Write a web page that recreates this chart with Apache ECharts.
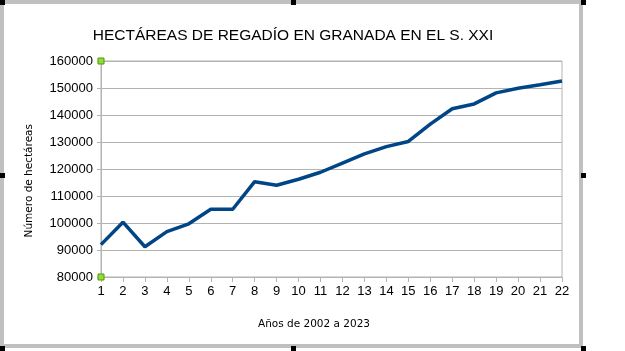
<!DOCTYPE html>
<html>
<head>
<meta charset="utf-8">
<script src="https://cdn.jsdelivr.net/npm/echarts@6/dist/echarts.min.js"></script>
<style>
  html, body { margin: 0; padding: 0; background: #fff; }
  #chart { width: 625px; height: 351px; }
</style>
</head>
<body>
<div id="chart"></div>
<script>
// años 2002..2023 numerados del 1 al 22
const years = ['1','2','3','4','5','6','7','8','9','10','11','12','13','14','15','16','17','18','19','20','21','22']
const hectareas = [92000, 100300, 91200, 96800, 99700, 105100, 105100, 115300, 114000, 116200, 118800,
  122200, 125600, 128300, 130200, 136600, 142300, 144100, 148200, 149900, 151200, 152600]
const yTicks = { min: 80000, max: 160000, step: 10000 }

const chart = echarts.init(document.getElementById('chart'))

// marcos y tiradores de seleccion (estilo LibreOffice)
const gray = '#c0c0c0'
const handles = [[0,0],[291,0],[581,0],[0,173],[581,173],[0,346],[291,346],[581,346]]

const option = {
  backgroundColor: '#fff',
  animation: false,
  title: [
    {
      text: 'HECTÁREAS DE REGADÍO EN GRANADA EN EL S. XXI',
      left: 288, top: 23, textAlign: 'center',
      textStyle: { fontFamily: 'Liberation Sans', fontSize: 15.5, fontWeight: 'normal', color: '#000' }
    },
    {
      text: 'Años de 2002 a 2023',
      left: 309, top: 314, textAlign: 'center',
      textStyle: { fontFamily: 'DejaVu Sans', fontSize: 10.5, fontWeight: 'normal', color: '#000' }
    }
  ],
  grid: {
    left: 101, right: 63, top: 61, bottom: 74,
    show: true, borderColor: '#b3b3b3', borderWidth: 1
  },
  xAxis: {
    type: 'category',
    data: years,
    boundaryGap: false,
    axisLine: { lineStyle: { color: '#b3b3b3' } },
    axisTick: { show: true, length: 5, lineStyle: { color: '#b3b3b3' } },
    axisLabel: { color: '#000', fontFamily: 'Liberation Sans', fontSize: 13, margin: 8 },
    splitLine: { show: false }
  },
  yAxis: {
    type: 'value',
    min: yTicks.min, max: yTicks.max, interval: yTicks.step,
    axisLine: { show: true, lineStyle: { color: '#b3b3b3' } },
    axisTick: { show: true, length: 4, lineStyle: { color: '#b3b3b3' } },
    axisLabel: { color: '#000', fontFamily: 'Liberation Sans', fontSize: 13, margin: 8, formatter: v => String(v) },
    splitLine: { lineStyle: { color: '#b3b3b3' } }
  },
  series: [
    {
      type: 'line',
      data: hectareas,
      symbol: 'none',
      lineStyle: { color: '#004586', width: 3.5 },
      markPoint: {
        symbol: 'rect', symbolSize: 6, silent: true,
        itemStyle: { color: '#8fdc3c', borderColor: '#4e9a06', borderWidth: 1 },
        label: { show: false },
        data: [ { coord: [0, yTicks.max] }, { coord: [0, yTicks.min] } ]
      }
    }
  ],
  graphic: [
    {
      type: 'text', left: 24, top: 124, rotation: Math.PI / 2,
      style: { text: 'Número de hectáreas', font: '10.5px "DejaVu Sans"', fill: '#000' }
    },
    {
      type: 'rect', shape: { x: 2, y: 2, width: 579, height: 344 }, silent: true,
      style: { fill: 'none', stroke: gray, lineWidth: 4 }
    }
  ].concat(handles.map(h => ({
    type: 'rect', shape: { x: h[0], y: h[1], width: 5, height: 5 }, silent: true,
    style: { fill: '#000' }
  })))
}

chart.setOption(option)
</script>
</body>
</html>
